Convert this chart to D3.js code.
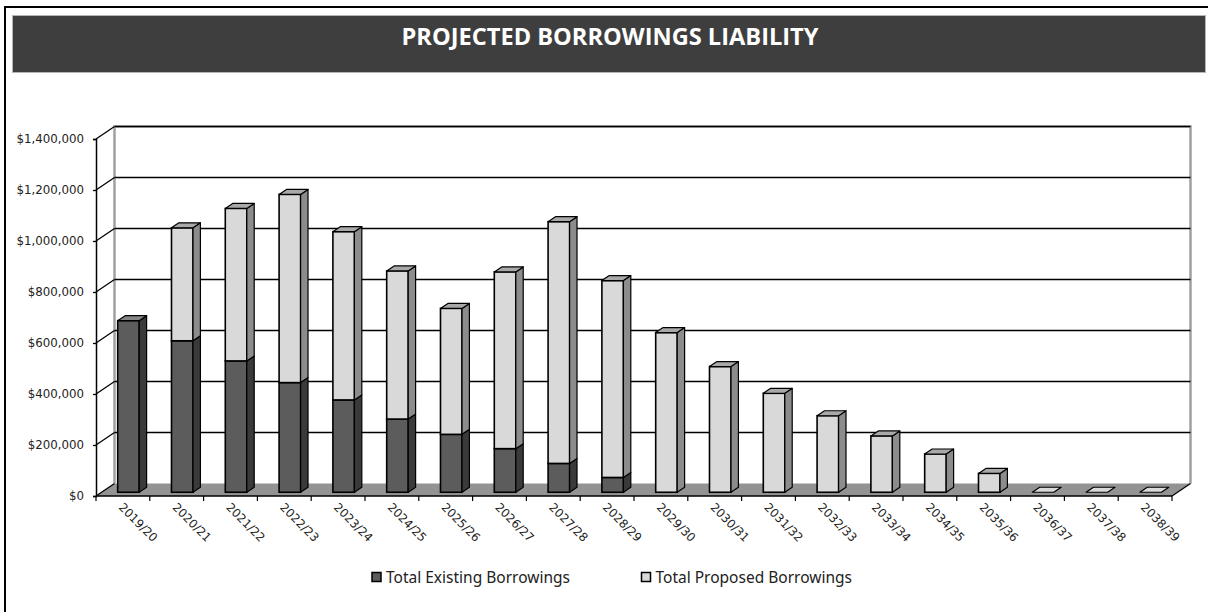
<!DOCTYPE html>
<html><head><meta charset="utf-8">
<script src="https://cdn.jsdelivr.net/npm/d3@7"></script>
<style>
html,body{margin:0;padding:0;background:#fff;}
svg{display:block;}
</style></head>
<body>
<svg id="chart" width="1208" height="612"></svg>
<script>
const categories = ["2019/20","2020/21","2021/22","2022/23","2023/24","2024/25","2025/26","2026/27","2027/28","2028/29","2029/30","2030/31","2031/32","2032/33","2033/34","2034/35","2035/36","2036/37","2037/38","2038/39"];
const existing = [673000,594000,515000,430000,362000,287000,227000,171000,113000,58000,0,0,0,0,0,0,0,0,0,0];
const proposed = [0,443000,598000,738000,660000,581000,494000,693000,948000,772000,626000,493000,388000,300000,221000,150000,74000,0,0,0];
const yTicks = [0,200000,400000,600000,800000,1000000,1200000,1400000];
const seriesNames = ["Total Existing Borrowings","Total Proposed Borrowings"];
const title = "PROJECTED BORROWINGS LIABILITY";

const svg = d3.select("#chart");
const DX = 18.5, DY = 12.5;          // depth offset of the 3D box
const D0 = 0.3, D1 = 0.7;            // bar depth range
const x = d3.scaleBand().domain(categories).range([96,1172]).paddingInner(0).paddingOuter(0);
const y = d3.scaleLinear().domain([0,1400000]).range([496,139]);
const P = (px,py,d)=>[px+DX*d, py-DY*d];
const pts = a=>a.map(p=>p.join(",")).join(" ");

const colors = {
  ex:{front:"#5c5c5c", side:"#3a3a3a", top:"#858585"},
  pr:{front:"#d9d9d9", side:"#8c8c8c", top:"#a9a9a9"}
};

// outer border
svg.append("line").attr("x1",5).attr("y1",7).attr("x2",1208).attr("y2",7).attr("stroke","#000").attr("stroke-width",2);
svg.append("line").attr("x1",5).attr("y1",6).attr("x2",5).attr("y2",612).attr("stroke","#000").attr("stroke-width",2);

// title band
svg.append("rect").attr("x",12.5).attr("y",15.5).attr("width",1193).attr("height",57)
  .attr("fill","#3e3e3e").attr("stroke","#b5b5b5").attr("stroke-width",1);
svg.append("text").attr("x",610).attr("y",45).attr("text-anchor","middle")
  .attr("font-family","Open Sans").attr("font-weight","bold").attr("font-size",22.5)
  .attr("fill","#fff").attr("textLength",417).attr("lengthAdjust","spacingAndGlyphs").text(title);

const x0 = x.range()[0], x1 = x.range()[1];
const yb = y(0);

// floor
svg.append("polygon").attr("points",pts([P(x0,yb,0),P(x1,yb,0),P(x1,yb,1),P(x0,yb,1)]))
  .attr("fill","#939393").attr("stroke","none");

// back wall outline
const wallTop = y(1400000);
svg.append("polyline").attr("points",pts([P(x0,yb,1),P(x0,wallTop,1),P(x1,wallTop,1),P(x1,yb,1)]))
  .attr("fill","none").attr("stroke","#a0a0a0").attr("stroke-width",2.5);

// gridlines on back wall and side wall
yTicks.forEach(t=>{
  const yy = y(t);
  if(t>0){
    svg.append("line").attr("x1",P(x0,yy,1)[0]).attr("y1",P(x0,yy,1)[1]).attr("x2",P(x1,yy,1)[0]).attr("y2",P(x1,yy,1)[1])
      .attr("stroke","#000").attr("stroke-width",1.6);
  }
  svg.append("line").attr("x1",x0).attr("y1",yy).attr("x2",P(x0,yy,1)[0]).attr("y2",P(x0,yy,1)[1])
    .attr("stroke","#000").attr("stroke-width",1.3);
});

// front y axis with labels
const yAxis = d3.axisLeft(y).tickValues(yTicks).tickFormat(d3.format("$,.0f")).tickSize(3).tickPadding(9);
const gy = svg.append("g").attr("transform",`translate(${x0},0)`).call(yAxis);
gy.select(".domain").attr("stroke","#000").attr("stroke-width",1.5);
gy.selectAll(".tick line").attr("stroke","#000").attr("stroke-width",1.3);
gy.selectAll(".tick text").attr("font-family","DejaVu Sans").attr("font-size",11.8).attr("fill","#222");

// x axis (front floor edge), ticks at category boundaries
svg.append("line").attr("x1",x0).attr("y1",yb).attr("x2",x1).attr("y2",yb).attr("stroke","#000").attr("stroke-width",1.6);
svg.append("line").attr("x1",x1).attr("y1",yb).attr("x2",P(x1,yb,1)[0]).attr("y2",P(x1,yb,1)[1]).attr("stroke","#000").attr("stroke-width",1.3);
categories.forEach((c,i)=>{
  const bx = x(c)+x.bandwidth();
  svg.append("line").attr("x1",bx).attr("y1",yb).attr("x2",bx).attr("y2",yb+5).attr("stroke","#000").attr("stroke-width",1.2);
});
svg.append("line").attr("x1",x0).attr("y1",yb).attr("x2",x0).attr("y2",yb+5).attr("stroke","#000").attr("stroke-width",1.2);

// x labels
svg.append("g").selectAll("text").data(categories).join("text")
  .attr("transform",d=>`translate(${x(d)+x.bandwidth()/2-5},${yb+12}) rotate(45)`)
  .attr("font-family","DejaVu Sans").attr("font-size",11.8).attr("fill","#222").text(d=>d);

// bars
const bw = x.bandwidth()*0.4;
const gb = svg.append("g");
categories.forEach((c,i)=>{
  const fx = x(c)+(x.bandwidth()-bw)/2;
  const segs = [
    {v0:0, v1:existing[i], col:colors.ex},
    {v0:existing[i], v1:existing[i]+proposed[i], col:colors.pr}
  ];
  const total = existing[i]+proposed[i];
  segs.forEach((s,k)=>{
    if(s.v1-s.v0<=0) return;
    const ya = y(s.v1), yz = y(s.v0);
    const f0 = P(fx,ya,D0), f1 = P(fx+bw,yz,D0);
    gb.append("rect").attr("x",f0[0]).attr("y",f0[1]).attr("width",bw).attr("height",f1[1]-f0[1])
      .attr("fill",s.col.front).attr("stroke","#000").attr("stroke-width",1.6);
    gb.append("polygon").attr("points",pts([P(fx+bw,ya,D0),P(fx+bw,ya,D1),P(fx+bw,yz,D1),P(fx+bw,yz,D0)]))
      .attr("fill",s.col.side).attr("stroke","#000").attr("stroke-width",1.2).attr("stroke-linejoin","round");
  });
  // top face
  const yt = y(total);
  const topCol = (proposed[i]>0 || total===0) ? colors.pr : colors.ex;
  gb.append("polygon").attr("points",pts([P(fx,yt,D0),P(fx+bw,yt,D0),P(fx+bw,yt,D1),P(fx,yt,D1)]))
    .attr("fill", total===0 ? colors.pr.front : topCol.top).attr("stroke","#000").attr("stroke-width",1.2).attr("stroke-linejoin","round");
});

// legend
const legend = svg.append("g");
const lx = [372, 641.5];
seriesNames.forEach((n,i)=>{
  legend.append("rect").attr("x",lx[i]).attr("y",572.5).attr("width",9).attr("height",9)
    .attr("fill", i===0?colors.ex.front:colors.pr.front).attr("stroke","#000").attr("stroke-width",1.5);
  legend.append("text").attr("x",lx[i]+14).attr("y",582.5).attr("font-family","Noto Sans").attr("font-size",15.5)
    .attr("fill","#222").text(n);
});
</script>
</body></html>
